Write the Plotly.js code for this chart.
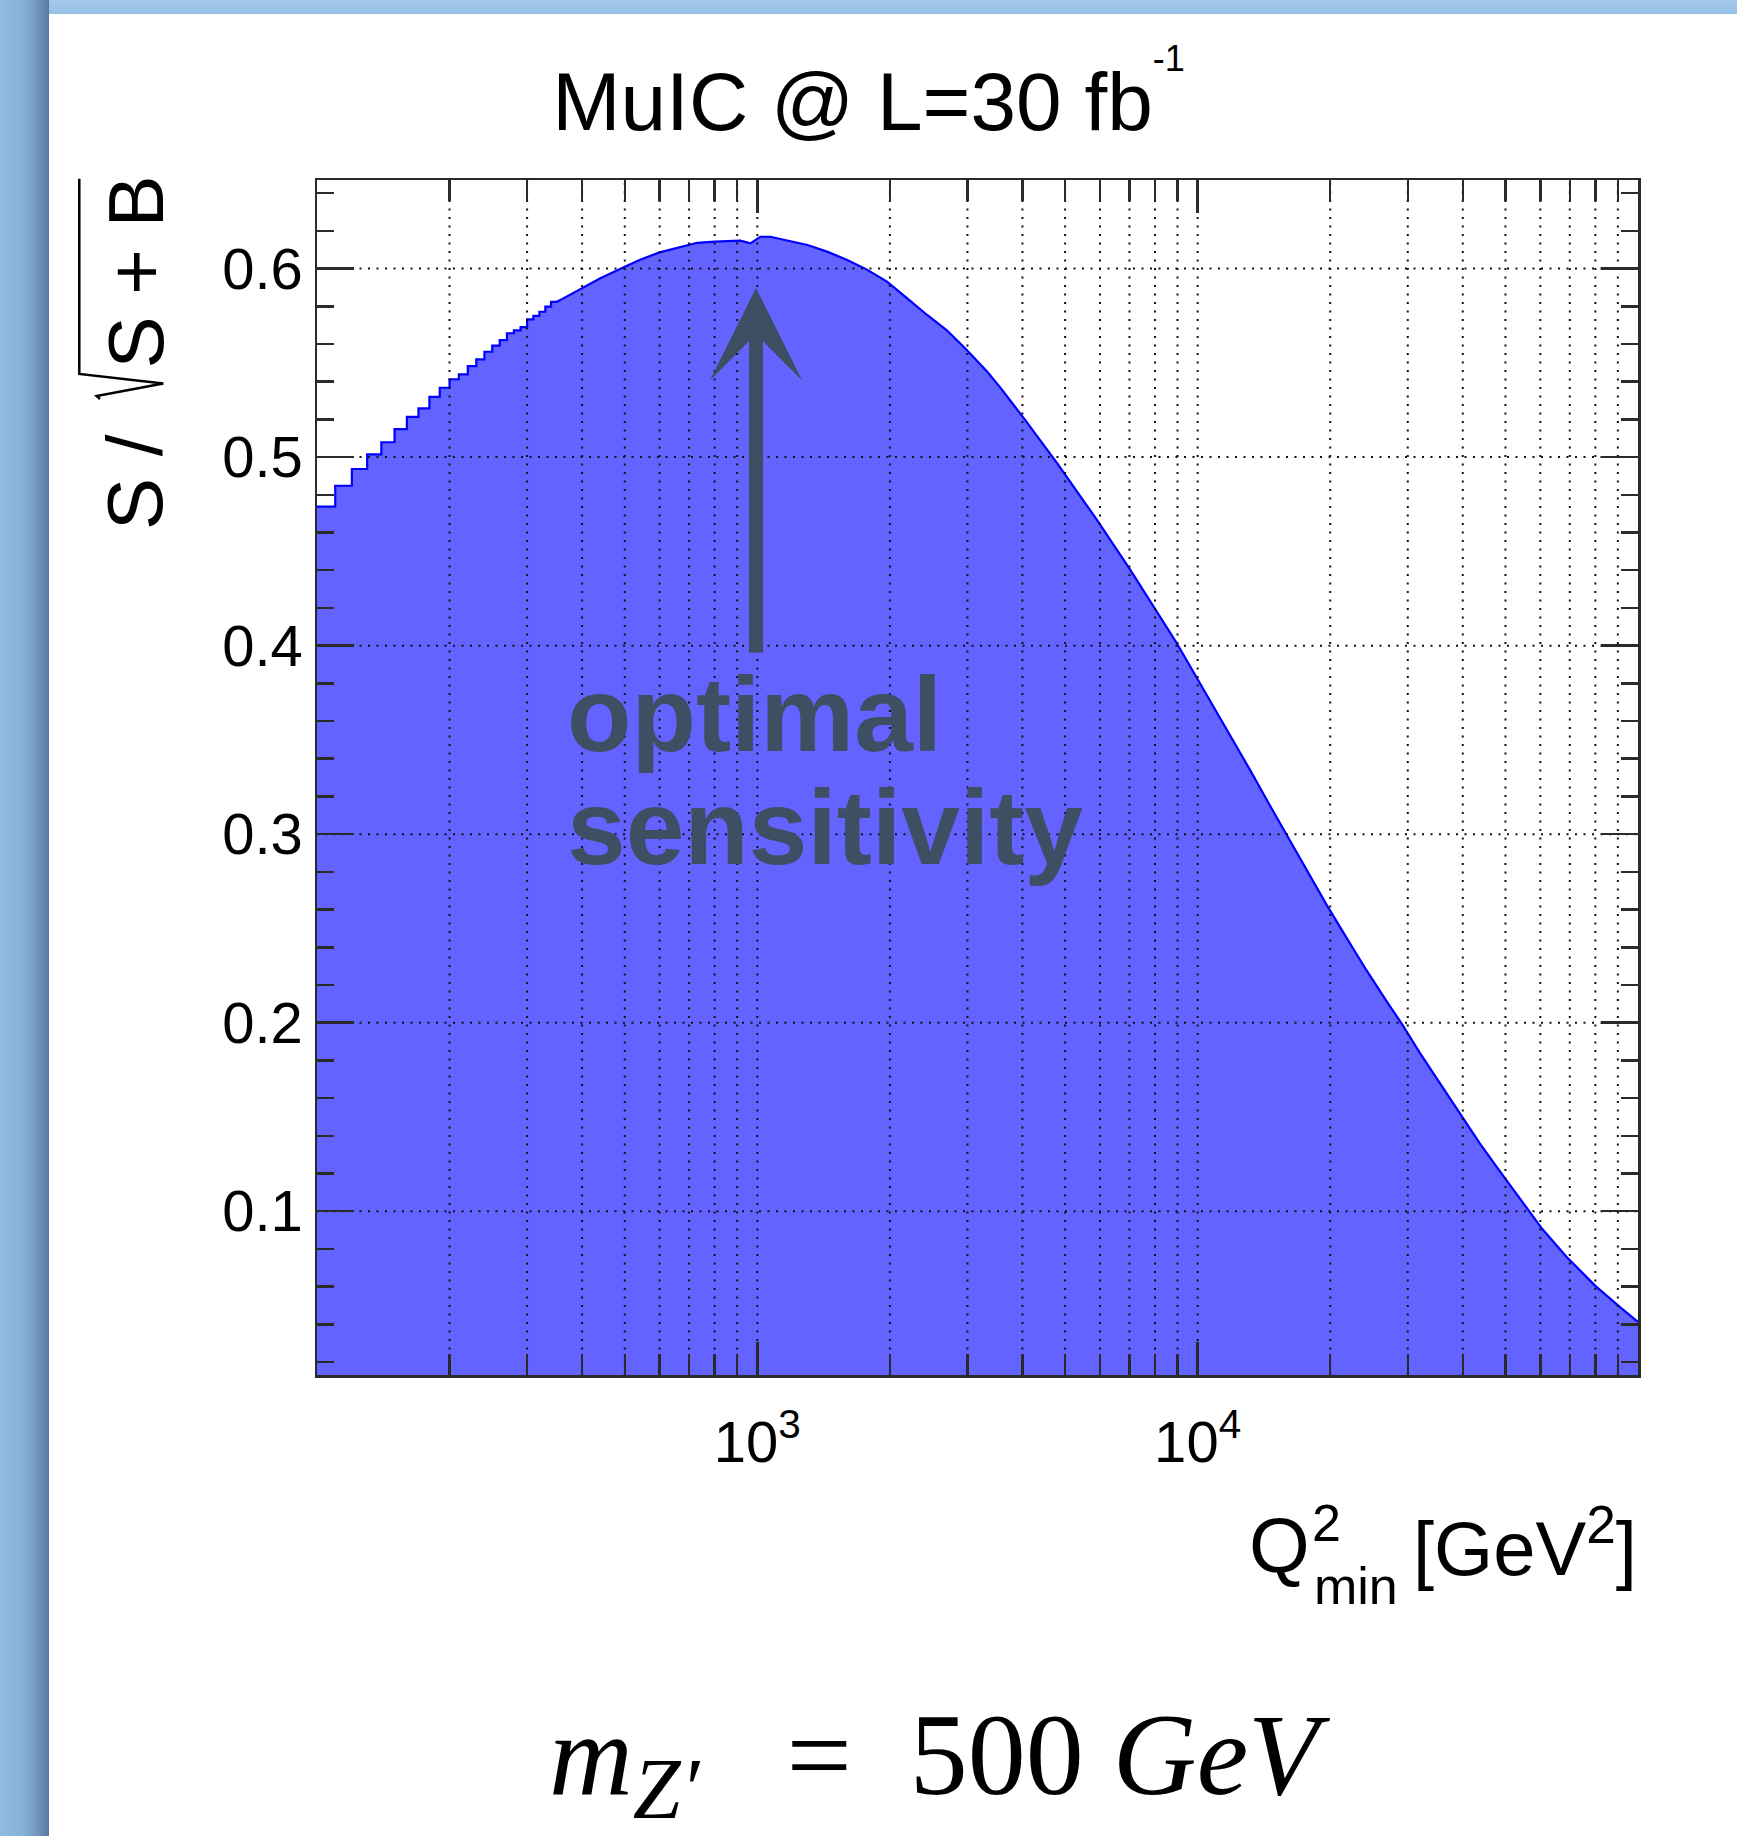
<!DOCTYPE html>
<html><head><meta charset="utf-8">
<script src="https://cdn.plot.ly/plotly-3.0.1.min.js"></script>
<style>
html,body{margin:0;padding:0;width:1737px;height:1836px;overflow:hidden;background:#fff;}
#bgTop{position:absolute;left:0;top:0;width:1737px;height:14px;background:linear-gradient(to bottom,#a4c9eb,#97bfe5);}
#bgLeft{position:absolute;left:0;top:0;width:49px;height:1836px;background:linear-gradient(to right,#93bce4 0%,#88b1da 45%,#7198c2 75%,#56789e 100%);}
#chart{position:absolute;left:0;top:0;width:1737px;height:1836px;}
</style></head><body>
<div id="bgTop"></div><div id="bgLeft"></div><div id="chart"></div>
<script>
// ---- data ----
const stepEdges = [100,110,120,130,140,150,160,170,180,190,200,210,220,230,240,250,260,270,280,290,300,310,320,330,340,350];
const stepVals  = [0.4737,0.4848,0.4937,0.5015,0.5079,0.5149,0.5213,0.5259,0.5320,0.5368,0.5413,0.5439,0.5483,0.5519,0.5559,0.5591,0.5621,0.5657,0.5672,0.5690,0.5731,0.5749,0.5771,0.5798,0.5824];
const curveQ = [360,400,440,500,540,600,690,730,800,915,965,1015,1070,1170,1300,1440,1600,1770,1970,2190,2430,2690,2990,3320,3560,4040,4790,5900,7020,8940,10570,11840,13150,14590,15920,17680,19630,21790,24190,26850,29040,31960,35460,39380,43720,48540,56360,60700,68950,80000,90880,100000];
const curveV = [0.5838,0.5895,0.5949,0.6010,0.6046,0.6086,0.6120,0.6137,0.6143,0.6148,0.6134,0.6169,0.6169,0.6148,0.6125,0.6090,0.6046,0.5996,0.5931,0.5842,0.5754,0.5674,0.5568,0.5456,0.5370,0.5203,0.4970,0.4668,0.4404,0.4018,0.3727,0.3527,0.3341,0.3152,0.2995,0.2813,0.2625,0.2450,0.2277,0.2114,0.1996,0.1840,0.1680,0.1515,0.1360,0.1212,0.1004,0.0904,0.0756,0.0604,0.0492,0.0413];
const xLimits = [100, 100000];
const yLimits = [0.0131, 0.647];
const xMajorTicks = [1000,10000];
const xMajorText  = ['10<sup>3</sup>','10<sup>4</sup>'];
const xMinorTicks = [200,300,400,500,600,700,800,900,2000,3000,4000,5000,6000,7000,8000,9000,20000,30000,40000,50000,60000,70000,80000,90000];
const yMajorTicks = [0.1,0.2,0.3,0.4,0.5,0.6];
const yMajorText  = ['0.1','0.2','0.3','0.4','0.5','0.6'];
const yMinorTicks = [0.02,0.04,0.06,0.08,0.12,0.14,0.16,0.18,0.22,0.24,0.26,0.28,0.32,0.34,0.36,0.38,0.42,0.44,0.46,0.48,0.52,0.54,0.56,0.58,0.62,0.64];

// ---- build histogram outline ----
const histX = [], histY = [];
for (let i = 0; i < stepVals.length; i++) {
  histX.push(stepEdges[i], stepEdges[i+1]);
  histY.push(stepVals[i], stepVals[i]);
}
for (let i = 0; i < curveQ.length; i++) { histX.push(curveQ[i]); histY.push(curveV[i]); }

// ---- dotted grid drawn on top of the filled histogram ----
const gridX = [], gridY = [];
xMinorTicks.concat(xMajorTicks).forEach(v => { gridX.push(v, v, null); gridY.push(yLimits[0], yLimits[1], null); });
yMajorTicks.forEach(v => { gridX.push(xLimits[0], xLimits[1], null); gridY.push(v, v, null); });

// ---- layout geometry ----
const W = 1737, H = 1836;
const PL = 317, PR = 1638, PT = 180, PB = 1375;
const px = x => (x - PL) / (PR - PL);
const py = y => (PB - y) / (PB - PT);
const SANS = 'Liberation Sans, Arial, Helvetica, sans-serif';
const SERIF = 'Liberation Serif, Times New Roman, serif';
const axisCol = '#2a2a2a';
const noteCol = '#3e4f63';

const shapes = [
  // radical sign of the y title
  {type:'path', layer:'above', xref:'paper', yref:'paper',
   path:`M${px(100)},${py(399)} L${px(96.7)},${py(396)} L${px(163.3)},${py(383.5)} L${px(79.3)},${py(374)} L${px(79.3)},${py(178.7)}`,
   line:{color:'#000', width:2.5}}
];

const ann = (text, x, y, xa, ya, size, extra) => Object.assign({
  text, xref:'paper', yref:'paper', x:px(x), y:py(y), xanchor:xa, yanchor:ya, showarrow:false,
  font:{family:SANS, size, color:'#000'}, borderpad:0
}, extra || {});

const annotations = [
  // y title
  ann('S /', 135, 531, 'center', 'bottom', 78, {textangle:-90}),
  ann('S + B', 135, 370, 'center', 'bottom', 78, {textangle:-90}),
  // x title
  ann('Q', 1311, 1590, 'right', 'bottom', 78),
  ann('2', 1311, 1553, 'left', 'bottom', 52),
  ann('min', 1313, 1616, 'left', 'bottom', 52),
  ann('[GeV<sup>2</sup>]', 1638, 1592, 'right', 'bottom', 76),
  // annotation text
  ann('<b>optimal</b>', 566, 774, 'left', 'bottom', 105.5, {font:{family:SANS, size:105.5, color:noteCol}}),
  ann('<b>sensitivity</b>', 566, 887, 'left', 'bottom', 105.5, {font:{family:SANS, size:105.5, color:noteCol}}),
  // arrow
  {text:'', xref:'paper', yref:'paper', x:px(756), y:py(288), showarrow:true, ax:0, ay:366,
   arrowhead:3, arrowsize:1.1, arrowwidth:14, arrowcolor:noteCol, standoff:0, startstandoff:0},
  // mass label
  ann('<i>m</i><sub><i><span style="font-size:86px">Z′</span></i></sub>\u2002\u2005=\u2002500\u2005<i>GeV</i>',
      940, 1689.5, 'center', 'top', 116, {font:{family:SERIF, size:116, color:'#000'}})
];

const histTrace = {
  x: histX, y: histY, type:'scatter', mode:'lines',
  line:{color:'#0000ff', width:2.2, shape:'linear'},
  fill:'tozeroy', fillcolor:'#6363ff', hoverinfo:'skip'
};
const gridTrace = {
  x: gridX, y: gridY, type:'scatter', mode:'lines', connectgaps:false,
  line:{color:'#111', width:2, dash:'2px,6.5px'}, hoverinfo:'skip'
};

const layout = {
  width:W, height:H, autosize:false,
  margin:{l:PL, r:W-PR, t:PT, b:H-PB, pad:0},
  paper_bgcolor:'rgba(0,0,0,0)', plot_bgcolor:'#ffffff',
  showlegend:false,
  title:{text:'MuIC @ L=30 fb<sup><sup><span style="font-size:36px">-1</span></sup></sup>', font:{family:SANS, size:82, color:'#000'},
         x:0.5, xref:'container', xanchor:'center', y:1-101/H, yref:'container', yanchor:'middle'},
  xaxis:{type:'log', range:xLimits.map(Math.log10), showgrid:false, zeroline:false,
    showline:true, linecolor:axisCol, linewidth:2.5, mirror:'ticks',
    ticks:'inside', ticklen:33, tickwidth:2.5, tickcolor:axisCol,
    tickmode:'array', tickvals:xMajorTicks, ticktext:xMajorText,
    tickfont:{family:SANS, size:58, color:'#000'}, ticklabelstandoff:15,
    minor:{tickmode:'array', tickvals:xMinorTicks, ticks:'inside', ticklen:21, tickwidth:2.5, tickcolor:axisCol, showgrid:false}
  },
  yaxis:{range:yLimits, showgrid:false, zeroline:false,
    showline:true, linecolor:axisCol, linewidth:2.5, mirror:'ticks',
    ticks:'inside', ticklen:37, tickwidth:2.5, tickcolor:axisCol,
    tickmode:'array', tickvals:yMajorTicks, ticktext:yMajorText,
    tickfont:{family:SANS, size:58, color:'#000'}, ticklabelstandoff:0,
    minor:{tickmode:'array', tickvals:yMinorTicks, ticks:'inside', ticklen:17, tickwidth:2.5, tickcolor:axisCol, showgrid:false}
  },
  shapes, annotations
};

Plotly.newPlot('chart', [histTrace, gridTrace], layout, {staticPlot:true, displayModeBar:false});
</script></body></html>
